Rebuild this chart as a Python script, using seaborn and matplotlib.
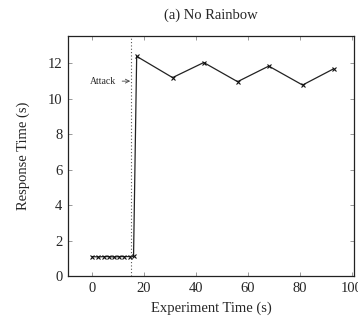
import numpy as np
import pandas as pd
import seaborn as sns
import matplotlib.pyplot as plt

# response time samples
time_s = [0, 2.5, 4.5, 6.5, 8.5, 10.5, 12.5, 14.5, 16, 17.2, 31, 43, 56, 68, 81, 93]
resp_s = [1.1, 1.08, 1.1, 1.1, 1.08, 1.1, 1.1, 1.1, 1.12, 12.4, 11.2, 12.05, 10.97, 11.85, 10.78, 11.7]
attack_at = 15

sns.set_theme(style="ticks")
plt.rcParams["font.family"] = ["Liberation Serif", "DejaVu Serif"]

df = pd.DataFrame({"time": time_s, "resp": resp_s})

fig = plt.figure(figsize=(3.58, 3.21), dpi=100)
ax = fig.add_axes([0.19, 0.14, 0.799, 0.748])

sns.lineplot(data=df, x="time", y="resp", ax=ax, color="#222222",
             linewidth=0.9, marker="x", markersize=3, markeredgewidth=0.8,
             markeredgecolor="#111111")

ax.axvline(attack_at, color="#555555", linestyle=(0, (1, 2)), linewidth=0.8)
ax.annotate("Attack", xy=(attack_at - 0.3, 11), xytext=(-0.8, 11),
            fontsize=7, va="center", ha="left",
            arrowprops=dict(arrowstyle="->", color="#444444", lw=0.6,
                            shrinkA=2, shrinkB=0))

ax.set_xlim(-9.2, 100.8)
ax.set_ylim(0, 13.55)
ax.set_xticks([0, 20, 40, 60, 80, 100])
ax.set_yticks([0, 2, 4, 6, 8, 10, 12])
ax.tick_params(direction="in", top=True, right=True, length=3, width=0.6,
               color="#888888", labelsize=10.5, pad=4)
for s in ax.spines.values():
    s.set_linewidth(0.9)
    s.set_color("#222222")

ax.set_xlabel("Experiment Time (s)", fontsize=10.5, labelpad=5)
ax.set_ylabel("Response Time (s)", fontsize=10.5, labelpad=13)
ax.set_title("(a) No Rainbow", fontsize=10.5, pad=12)

fig.savefig("out.png", dpi=100)
